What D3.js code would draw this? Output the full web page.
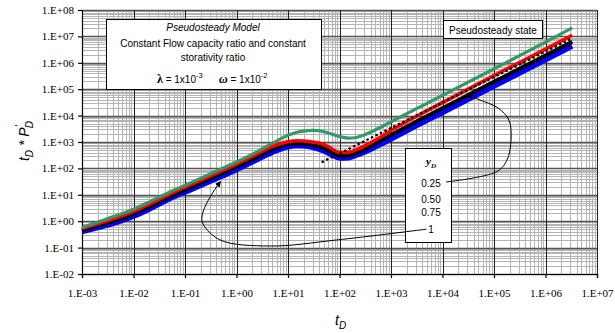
<!DOCTYPE html>
<html><head><meta charset="utf-8">
<script src="https://cdn.jsdelivr.net/npm/d3@7"></script>
<style>body{margin:0;background:#fff} svg{display:block}</style>
</head><body>
<svg id="chart" width="615" height="333"></svg>
<script>
// Dimensionless time
const tD = [0.001, 0.002, 0.005, 0.01, 0.02, 0.05, 0.1, 0.2, 0.5, 1, 2, 5, 10, 15, 20, 30, 50, 70, 100, 150, 200, 300, 500, 1000, 3000, 1e4, 1e5, 1e6, 3.3e6];
// Pressure derivative group tD*PD' for each yD
const yD025 = [0.58, 0.92, 1.7, 2.85, 5.3, 12.5, 23, 42, 95, 175, 340, 900, 1800, 2350, 2600, 2750, 2450, 2000, 1600, 1400, 1450, 1850, 2900, 5800, 17500, 58000, 590000, 6.1e6, 2.1e7];
const yD050 = [0.52, 0.8, 1.4, 2.35, 4.3, 10.5, 19.5, 35, 78, 145, 280, 680, 1020, 1110, 1100, 1000, 800, 570, 400, 410, 490, 700, 1200, 2700, 9000, 31000, 330000, 3.3e6, 1.1e7];
const yD075 = [0.46, 0.68, 1.15, 1.9, 3.5, 8.5, 15.5, 28, 62, 115, 220, 520, 840, 890, 870, 780, 590, 420, 300, 310, 370, 520, 880, 1850, 5700, 19000, 190000, 1.9e6, 6.3e6];
const yD100 = [0.4, 0.56, 0.92, 1.5, 2.8, 6.9, 12.5, 22, 48, 88, 170, 400, 650, 720, 700, 620, 450, 330, 245, 250, 300, 400, 640, 1280, 3900, 12800, 128000, 1.28e6, 4.2e6];
// Pseudosteady-state straight line (end points)
const pssT = [45, 3.3e6];
const pssV = [170, 8.5e6];

const seriesNames = ["0.25", "0.50", "0.75", "1"];
const seriesColors = ["#339966", "#ff0000", "#000000", "#0000ff"];
const seriesWidths = [3.2, 3.5, 4, 5];

const xTickLabels = ["1.E-03", "1.E-02", "1.E-01", "1.E+00", "1.E+01", "1.E+02", "1.E+03", "1.E+04", "1.E+05", "1.E+06", "1.E+07"];
const yTickLabels = ["1.E-02", "1.E-01", "1.E+00", "1.E+01", "1.E+02", "1.E+03", "1.E+04", "1.E+05", "1.E+06", "1.E+07", "1.E+08"];

// Leader curves from the yD legend to the curves (tD, value)
const leader1 = [[4900, 0.5], [89, 0.195], [4.5, 0.115], [0.48, 0.195], [0.22, 0.85], [0.22, 2.0], [0.31, 8.5], [0.49, 32]];
const leader025 = [[11700, 30.5], [114000, 76], [179000, 208], [214000, 1190], [195000, 6800], [120000, 19400], [53500, 39000], [29900, 60300]];

const svg = d3.select("#chart");
const x = d3.scaleLog().domain([1e-3, 1e7]).range([82, 597]);
const y = d3.scaleLog().domain([1e-2, 1e8]).range([274, 10]);

const xMajor = d3.range(-3, 8).map(e => Math.pow(10, e));
const yMajor = d3.range(-2, 9).map(e => Math.pow(10, e));
const minorOf = (lo, hi) => {
  const out = [];
  for (let e = lo; e < hi; e++) for (let k = 2; k <= 9; k++) out.push(k * Math.pow(10, e));
  return out;
};
const xMinor = minorOf(-3, 7);
const yMinor = minorOf(-2, 8);

const grid = svg.append("g");
grid.selectAll(".hmin").data(yMinor).join("line")
  .attr("x1", 82).attr("x2", 597)
  .attr("y1", d => Math.round(y(d)) + 0.5).attr("y2", d => Math.round(y(d)) + 0.5)
  .attr("stroke", "#b4b4b4").attr("stroke-width", 1);
grid.selectAll(".vmin").data(xMinor).join("line")
  .attr("y1", 10).attr("y2", 274)
  .attr("x1", d => Math.round(x(d)) + 0.5).attr("x2", d => Math.round(x(d)) + 0.5)
  .attr("stroke", "#b4b4b4").attr("stroke-width", 1);
grid.selectAll(".hmaj").data(yMajor).join("line")
  .attr("x1", 82).attr("x2", 597)
  .attr("y1", d => Math.round(y(d)) + 0.5).attr("y2", d => Math.round(y(d)) + 0.5)
  .attr("stroke", "#555").attr("stroke-width", 1.3);
grid.selectAll(".vmaj").data(xMajor).join("line")
  .attr("y1", 10).attr("y2", 274)
  .attr("x1", d => Math.round(x(d)) + 0.5).attr("x2", d => Math.round(x(d)) + 0.5)
  .attr("stroke", "#222").attr("stroke-width", 1);

// Axes
const xAxis = d3.axisBottom(x).tickValues(xMajor).tickSize(4).tickFormat((d, i) => xTickLabels[i]);
const yAxis = d3.axisLeft(y).tickValues(yMajor).tickSize(4).tickFormat((d, i) => yTickLabels[i]);
const gx = svg.append("g").attr("transform", "translate(0,274)").call(xAxis);
const gy = svg.append("g").attr("transform", "translate(82,0)").call(yAxis);
[gx, gy].forEach(g => {
  g.select(".domain").attr("stroke", "#000").attr("stroke-width", 1.2);
  g.selectAll(".tick line").attr("stroke", "#000").attr("stroke-width", 1.2);
  g.selectAll(".tick text").attr("font-family", "'Liberation Serif', 'Times New Roman', serif")
    .attr("font-size", 11).attr("fill", "#000");
});
gx.selectAll(".tick text").attr("y", 15);
gy.selectAll(".tick text").attr("x", -8);

// Curves
const line = d3.line().x(d => x(d[0])).y(d => y(d[1])).curve(d3.curveMonotoneX);
const allSeries = [yD025, yD050, yD075, yD100];
const drawOrder = [3, 2, 1, 0];
const curves = svg.append("g");
drawOrder.forEach(i => {
  curves.append("path")
    .datum(tD.map((t, j) => [t, allSeries[i][j]]))
    .attr("d", line)
    .attr("fill", "none")
    .attr("stroke", seriesColors[i])
    .attr("stroke-width", seriesWidths[i])
    .attr("stroke-linejoin", "round");
});
curves.append("path")
  .datum(pssT.map((t, j) => [t, pssV[j]]))
  .attr("d", d3.line().x(d => x(d[0])).y(d => y(d[1])))
  .attr("fill", "none").attr("stroke", "#000").attr("stroke-width", 2.2)
  .attr("stroke-dasharray", "2.5,2.5");

const sans = "'Liberation Sans', Arial, sans-serif";
const serif = "'Liberation Serif', 'Times New Roman', serif";

// Model description box
const mb = svg.append("g");
mb.append("rect").attr("x", 106.5).attr("y", 19.5).attr("width", 215).attr("height", 70)
  .attr("fill", "#fff").attr("stroke", "#000").attr("stroke-width", 1);
const mbText = (txt, yy, italic) => mb.append("text").attr("x", 213).attr("y", yy)
  .attr("text-anchor", "middle").attr("font-family", sans).attr("font-size", 10)
  .attr("font-style", italic ? "italic" : null).text(txt);
mbText("Pseudosteady Model", 31, true);
mbText("Constant Flow capacity ratio and constant", 47, false);
mbText("storativity ratio", 61, false);
const lam = mb.append("text").attr("x", 157).attr("y", 83).attr("font-family", sans).attr("font-size", 10);
lam.append("tspan").attr("font-family", serif).attr("font-weight", "bold").attr("font-size", 12).text("λ");
lam.append("tspan").text(" = 1x10");
lam.append("tspan").attr("dy", -5).attr("font-size", 7.5).text("-3");
const om = mb.append("text").attr("x", 219).attr("y", 83).attr("font-family", sans).attr("font-size", 10);
om.append("tspan").attr("font-family", serif).attr("font-weight", "bold").attr("font-style", "italic").attr("font-size", 12).text("ω");
om.append("tspan").text(" = 1x10");
om.append("tspan").attr("dy", -5).attr("font-size", 7.5).text("-2");

// Pseudosteady state label
svg.append("rect").attr("x", 443.5).attr("y", 20.5).attr("width", 99).attr("height", 18)
  .attr("fill", "#fff").attr("stroke", "#000").attr("stroke-width", 1);
svg.append("text").attr("x", 493).attr("y", 33.5).attr("text-anchor", "middle")
  .attr("font-family", sans).attr("font-size", 10).text("Pseudosteady state");

// yD legend
svg.append("rect").attr("x", 405.5).attr("y", 148.5).attr("width", 46).attr("height", 94)
  .attr("fill", "#fff").attr("stroke", "#000").attr("stroke-width", 1);
const yl = svg.append("text").attr("x", 426).attr("y", 165).attr("font-family", serif)
  .attr("font-style", "italic").attr("font-weight", "bold").attr("font-size", 11);
yl.append("tspan").text("y");
yl.append("tspan").attr("dy", 3).attr("font-size", 7).text("D");
const legY = [187, 202.5, 216, 232.5];
svg.selectAll(".leg").data(seriesNames).join("text")
  .attr("x", 431).attr("y", (d, i) => legY[i]).attr("text-anchor", "middle")
  .attr("font-family", sans).attr("font-size", 10).text(d => d);

// Arrow marker and leader curves
svg.append("defs").append("marker")
  .attr("id", "arrow").attr("viewBox", "0 0 10 10").attr("refX", 9).attr("refY", 5)
  .attr("markerWidth", 6).attr("markerHeight", 7).attr("orient", "auto-start-reverse")
  .attr("markerUnits", "userSpaceOnUse")
  .append("path").attr("d", "M0,0 L10,5 L0,10 z").attr("fill", "#000");

const lead = d3.line().x(d => x(d[0])).y(d => y(d[1])).curve(d3.curveCatmullRom.alpha(0.5));
svg.append("path").datum(leader1).attr("d", lead).attr("fill", "none")
  .attr("stroke", "#000").attr("stroke-width", 1).attr("marker-end", "url(#arrow)");
svg.append("path").datum(leader025).attr("d", lead).attr("fill", "none")
  .attr("stroke", "#000").attr("stroke-width", 1).attr("marker-end", "url(#arrow)");

// Axis titles
const xt = svg.append("text").attr("x", 335).attr("y", 325).attr("font-family", sans)
  .attr("font-style", "italic").attr("font-size", 14);
xt.append("tspan").text("t");
xt.append("tspan").attr("dy", 4).attr("font-size", 10).text("D");

const yt = svg.append("text").attr("transform", "translate(29,141) rotate(-90)")
  .attr("text-anchor", "middle")
  .attr("font-family", sans).attr("font-style", "italic").attr("font-size", 14);
yt.append("tspan").text("t");
yt.append("tspan").attr("dy", 4).attr("font-size", 10).text("D");
yt.append("tspan").attr("dy", -4).text(" * P");
yt.append("tspan").attr("dy", -6).attr("font-size", 11).text("'");
yt.append("tspan").attr("dx", -3).attr("dy", 10).attr("font-size", 10).text("D");
</script>
</body></html>
